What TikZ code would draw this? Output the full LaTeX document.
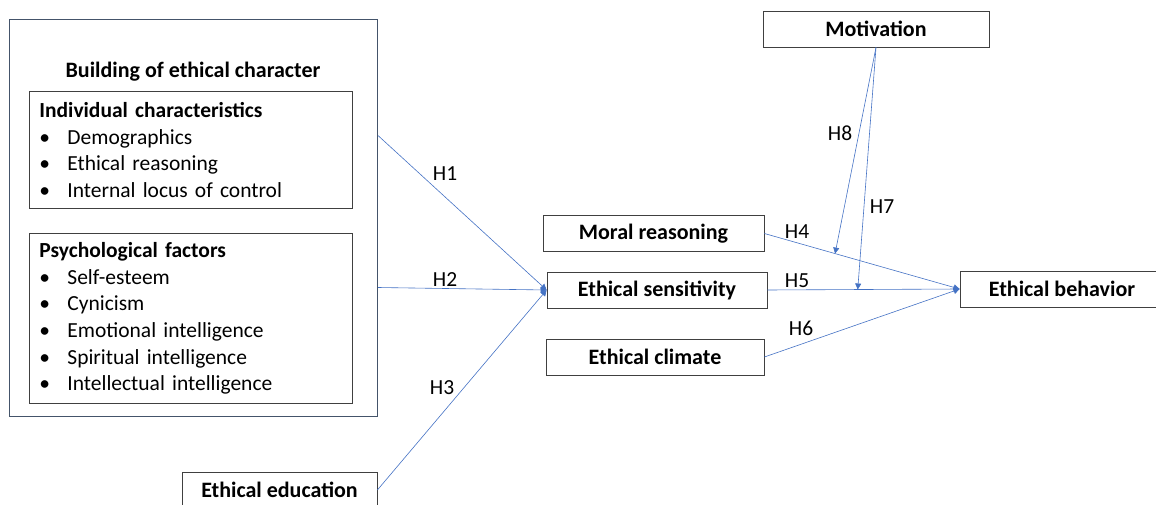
\documentclass[tikz,border=0pt]{standalone}
\usepackage{fontspec}
\setmainfont{Carlito}
\usepackage{tikz}
\usetikzlibrary{calc,arrows.meta}
\definecolor{linkblue}{RGB}{68,114,196}
\definecolor{framegrey}{RGB}{64,64,64}
\definecolor{outerblue}{RGB}{68,84,106}
\tikzset{
	varbox/.style={draw=framegrey, line width=0.8pt, minimum height=36pt, inner sep=0pt, font=\fontsize{22}{26}\selectfont\bfseries},
	listbox/.style={draw=framegrey, line width=0.8pt, anchor=north west, text width=303pt, inner xsep=10pt, inner ysep=0pt, align=left, font=\fontsize{21.5}{26.7}\selectfont},
	hyp/.style={draw=linkblue, line width=0.6pt, -{Triangle[width=6pt,length=6pt]}},
	hlabel/.style={font=\fontsize{21.5}{26}\selectfont}
}
\newcommand{\itm}[1]{\makebox[28pt][l]{\textbullet}#1}

\begin{document}
\begin{tikzpicture}[x=1pt,y=-1pt]
		\useasboundingbox (0,0) rectangle (1156,505);
		%%%%% LEFT BLOCK %%%%%
		\node[draw=outerblue, line width=1pt, minimum width=368pt, minimum height=397pt, anchor=north west] (charbox) at (9,19) {};
		\node[font=\fontsize{22}{26}\selectfont\bfseries] (chartitle) at (193,72) {Building of ethical character};
		\node[listbox, minimum height=117pt] (indiv) at (29,91) {\textbf{Individual characteristics}\\ \itm{Demographics}\\ \itm{Ethical reasoning}\\ \itm{Internal locus of control}};
		\node[listbox, minimum height=170pt] (psych) at (29,233) {\textbf{Psychological factors}\\ \itm{Self-esteem}\\ \itm{Cynicism}\\ \itm{Emotional intelligence}\\ \itm{Spiritual intelligence}\\ \itm{Intellectual intelligence}};
		
		\node[varbox, minimum width=195pt] (educ) at (279.5,490) {Ethical education};
		
		%%%%% MIDDLE %%%%%
		\node[varbox, minimum width=221pt] (moral) at (653.5,233.5) {Moral reasoning};
		\node[varbox, minimum width=220pt] (sens) at (657,290) {Ethical sensitivity};
		\node[varbox, minimum width=218pt] (climate) at (655,357) {Ethical climate};
		
		%%%%% RIGHT %%%%%
		\node[varbox, minimum width=226pt] (motiv) at (876,29) {Motivation};
		\node[varbox, minimum width=204pt] (behav) at (1062,289) {Ethical behavior};
		
		\coordinate (h8end) at ($(moral.east)!0.362!(behav.west)$);
		\coordinate (h7end) at ($(sens.east)!0.47!(behav.west)$);
		
		%%%%% ARROWS %%%%%
		\draw[hyp] ([yshift=82.5pt]charbox.east) -- (sens.west);
		\draw[hyp] ([yshift=-69.5pt]charbox.east) -- (sens.west);
		\draw[hyp] (educ.east) -- (sens.west);
		\draw[hyp] (moral.east) -- (behav.west);
		\draw[hyp] (sens.east) -- (behav.west);
		\draw[hyp] (climate.east) -- (behav.west);
		\draw[hyp] (motiv.south) -- (h8end);
		\draw[hyp] (motiv.south) -- (h7end);
		
		\node[hlabel] (h1) at (445,174) {H1};
		\node[hlabel] (h2) at (445,280) {H2};
		\node[hlabel] (h3) at (442,388) {H3};
		\node[hlabel] (h4) at (797,232) {H4};
		\node[hlabel] (h5) at (797,281) {H5};
		\node[hlabel] (h6) at (801,328) {H6};
		\node[hlabel] (h7) at (882,207) {H7};
		\node[hlabel] (h8) at (840,133) {H8};
	\end{tikzpicture}
\end{document}
